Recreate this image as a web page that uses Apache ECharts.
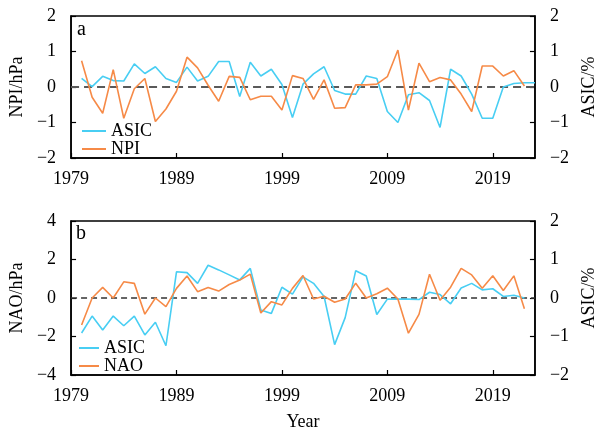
<!DOCTYPE html>
<html><head><meta charset="utf-8">
<script src="https://cdn.jsdelivr.net/npm/echarts@6/dist/echarts.min.js"></script>
<style>html,body{margin:0;padding:0;background:#fff}#c{width:606px;height:432px}</style>
</head><body><div id="c"></div>
<script>
const years = [];
for (let y = 1979; y <= 2023; y++) years.push(String(y));
const tickYears = ['1979','1989','1999','2009','2019'];

// Panel a (1979 has no value)
const npiA = [null,0.74,-0.29,-0.74,0.49,-0.88,-0.05,0.24,-0.97,-0.62,-0.12,
  0.84,0.54,0.05,-0.40,0.30,0.27,-0.36,-0.26,-0.26,-0.65,
  0.32,0.24,-0.35,0.20,-0.60,-0.58,0.06,0.06,0.08,0.29,
  1.04,-0.65,0.67,0.15,0.27,0.20,-0.20,-0.69,0.59,0.59,
  0.31,0.46,0.03,null];
const asicA = [null,0.24,0.01,0.30,0.18,0.17,0.65,0.38,0.57,0.24,0.13,
  0.56,0.17,0.30,0.72,0.72,-0.27,0.70,0.31,0.50,0.07,
  -0.86,0.08,0.37,0.57,-0.10,-0.20,-0.20,0.31,0.24,-0.69,
  -1.00,-0.22,-0.16,-0.38,-1.14,0.50,0.31,-0.20,-0.88,-0.88,
  0.00,0.10,0.12,0.12];
// Panel b
const naoB = [null,-1.40,0.00,0.55,0.00,0.84,0.76,-0.84,0.00,-0.45,0.50,
  1.14,0.33,0.55,0.36,0.70,0.93,1.24,-0.78,-0.19,-0.36,
  0.50,1.17,-0.05,0.09,-0.22,-0.05,0.77,0.00,0.22,0.51,
  -0.05,-1.83,-0.85,1.23,-0.12,0.56,1.54,1.20,0.51,1.16,
  0.39,1.15,-0.56,null];
const asicB = [null,-0.91,-0.47,-0.83,-0.47,-0.72,-0.47,-0.96,-0.63,-1.24,0.68,
  0.66,0.38,0.85,0.73,0.60,0.47,0.77,-0.31,-0.40,0.28,
  0.10,0.55,0.38,0.04,-1.21,-0.51,0.71,0.57,-0.43,-0.03,
  -0.03,-0.03,-0.04,0.15,0.09,-0.15,0.26,0.38,0.21,0.24,
  0.04,0.07,0.00,null];

const FONT = 'Liberation Serif';
const BLUE = '#48CEF3';
const ORANGE = '#F68A47';
const minus = v => String(v).replace('-', '\u2212');
const isTick = (i, v) => tickYears.indexOf(v) >= 0;

function xAx(gi) {
  return {
    type: 'category', gridIndex: gi, data: years, boundaryGap: false,
    axisLine: {show: true, onZero: false, lineStyle: {color: '#000', width: 1.5}},
    axisTick: {show: true, inside: true, length: 5, interval: isTick, lineStyle: {color: '#000', width: 1.2}},
    axisLabel: {interval: isTick, margin: 12, fontFamily: FONT, fontSize: 18, color: '#000'},
    splitLine: {show: false},
    name: gi === 1 ? 'Year' : '', nameLocation: 'middle', nameGap: 38,
    nameTextStyle: {fontFamily: FONT, fontSize: 18, color: '#000'}
  };
}
function yAx(gi, pos, min, max, interval, name) {
  return {
    type: 'value', gridIndex: gi, position: pos, min, max, interval,
    axisLine: {show: true, onZero: false, lineStyle: {color: '#000', width: 1.5}},
    axisTick: {show: true, inside: true, length: 5, lineStyle: {color: '#000', width: 1.2}},
    axisLabel: {formatter: minus, margin: 15, fontFamily: FONT, fontSize: 18, color: '#000'},
    splitLine: {show: false},
    name, nameLocation: 'middle', nameRotate: 90, nameGap: pos === 'left' ? 39 : 41,
    nameTextStyle: {fontFamily: FONT, fontSize: 18, color: '#000'}
  };
}
function zeroLine(color, width, dash) {
  return {
    silent: true, symbol: 'none', label: {show: false}, z: 1,
    lineStyle: {color, width, type: dash},
    emphasis: {disabled: true},
    data: [{yAxis: 0}]
  };
}
function lineSeries(name, data, xi, yi, color, mark) {
  const s = {
    name, type: 'line', data, xAxisIndex: xi, yAxisIndex: yi,
    symbol: 'none', smooth: false,
    lineStyle: {color, width: 1.6}, itemStyle: {color},
    emphasis: {disabled: true}, animation: false
  };
  if (mark) s.markLine = mark;
  return s;
}

const chart = echarts.init(document.getElementById('c'), null, {renderer: 'canvas'});
chart.setOption({
  animation: false,
  backgroundColor: '#fff',
  title: [
    {text: 'a', left: 77, top: 20, padding: 0, textStyle: {fontFamily: FONT, fontSize: 20, fontWeight: 'normal', color: '#000'}},
    {text: 'b', left: 76, top: 224, padding: 0, textStyle: {fontFamily: FONT, fontSize: 20, fontWeight: 'normal', color: '#000'}}
  ],
  grid: [
    {left: 70, right: 58, top: 16, height: 142, show: true, borderColor: '#000', borderWidth: 1.5, backgroundColor: 'transparent'},
    {left: 70, right: 58, top: 221, height: 155, show: true, borderColor: '#000', borderWidth: 1.5, backgroundColor: 'transparent'}
  ],
  legend: [
    {data: ['ASIC', 'NPI'], orient: 'vertical', left: 82, top: 122, padding: 0, itemGap: 0,
     icon: 'rect', itemWidth: 24, itemHeight: 2,
     textStyle: {fontFamily: FONT, fontSize: 18, color: '#000', lineHeight: 16}},
    {data: ['ASIC', 'NAO'], orient: 'vertical', left: 79, top: 339, padding: 0, itemGap: 0,
     icon: 'rect', itemWidth: 20, itemHeight: 2,
     textStyle: {fontFamily: FONT, fontSize: 18, color: '#000', lineHeight: 18}}
  ],
  xAxis: [xAx(0), xAx(1)],
  yAxis: [
    yAx(0, 'left', -2, 2, 1, 'NPI/hPa'),
    yAx(0, 'right', -2, 2, 1, 'ASIC/%'),
    yAx(1, 'left', -4, 4, 2, 'NAO/hPa'),
    yAx(1, 'right', -2, 2, 1, 'ASIC/%')
  ],
  series: [
    lineSeries('ASIC', asicA, 0, 1, BLUE, zeroLine('#5a5a5a', 2, [8, 5])),
    lineSeries('NPI', npiA, 0, 0, ORANGE),
    lineSeries('ASIC', asicB, 1, 3, BLUE, zeroLine('#333', 1.5, [6, 4])),
    lineSeries('NAO', naoB, 1, 2, ORANGE)
  ]
});
</script>
</body></html>
